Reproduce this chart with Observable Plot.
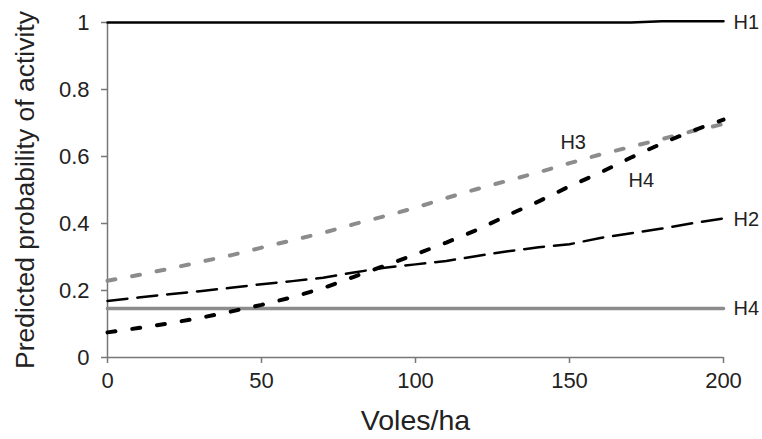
<!DOCTYPE html>
<html>
<head>
<meta charset="utf-8">
<script src="https://cdn.jsdelivr.net/npm/d3@7"></script>
<script src="https://cdn.jsdelivr.net/npm/@observablehq/plot@0.6"></script>
<style>
  html, body { margin: 0; padding: 0; background: white; }
</style>
</head>
<body>
<div id="chart"></div>
<script>
const voles = [0, 10, 20, 30, 40, 50, 60, 70, 80, 90, 100, 110, 120, 130, 140, 150, 160, 170, 180, 190, 200];
const h1 = [1.0, 1.0, 1.0, 1.0, 1.0, 1.0, 1.0, 1.0, 1.0, 1.0, 1.0, 1.0, 1.0, 1.0, 1.0, 1.0, 1.0, 1.0, 1.004, 1.004, 1.004];
const h2 = [0.169, 0.179, 0.189, 0.198, 0.208, 0.219, 0.228, 0.238, 0.254, 0.268, 0.278, 0.288, 0.303, 0.317, 0.329, 0.338, 0.357, 0.371, 0.385, 0.401, 0.415];
const h3 = [0.229, 0.246, 0.265, 0.285, 0.305, 0.328, 0.350, 0.372, 0.398, 0.422, 0.447, 0.476, 0.503, 0.528, 0.553, 0.580, 0.606, 0.629, 0.652, 0.676, 0.697];
const h4 = [0.075, 0.088, 0.102, 0.118, 0.137, 0.157, 0.180, 0.207, 0.241, 0.274, 0.308, 0.343, 0.381, 0.425, 0.466, 0.511, 0.552, 0.597, 0.639, 0.677, 0.710];
const h4flat = [0.146, 0.146, 0.146, 0.146, 0.146, 0.146, 0.146, 0.146, 0.146, 0.146, 0.146, 0.146, 0.146, 0.146, 0.146, 0.146, 0.146, 0.146, 0.146, 0.146, 0.146];

const xTicks = [0, 50, 100, 150, 200];
const yTicks = [0, 0.2, 0.4, 0.6, 0.8, 1];
const xTitle = "Voles/ha";
const yTitle = "Predicted probability of activity";

const endLabels = [
  {text: "H1", x: 200, y: 1.0},
  {text: "H2", x: 200, y: 0.413},
  {text: "H4", x: 200, y: 0.146}
];
const innerLabels = [
  {text: "H3", x: 151.2, y: 0.642},
  {text: "H4", x: 173.3, y: 0.527}
];

const rows = (ys) => voles.map((v, i) => ({x: v, y: ys[i]}));

const plot = Plot.plot({
  width: 762,
  height: 439,
  marginLeft: 107,
  marginRight: 39,
  marginTop: 22,
  marginBottom: 82,
  style: {fontFamily: "'Liberation Sans', Arial, sans-serif", background: "white", color: "#222"},
  x: {domain: [0, 200]},
  y: {domain: [0, 1]},
  marks: [
    Plot.ruleY([0], {stroke: "#777", strokeWidth: 1.5}),
    Plot.ruleX([0], {stroke: "#777", strokeWidth: 1.5}),
    Plot.axisX({ticks: xTicks, tickSize: 6, tickPadding: 9, fontSize: 22, label: null, stroke: "#777", strokeWidth: 1.5, fill: "#222", tickFormat: d => String(d)}),
    Plot.axisY({ticks: yTicks, tickSize: 6, tickPadding: 12, fontSize: 22, label: null, stroke: "#777", strokeWidth: 1.5, fill: "#222", tickFormat: d => String(d)}),
    Plot.line(rows(h4flat), {x: "x", y: "y", stroke: "#8c8c8c", strokeWidth: 3.5}),
    Plot.line(rows(h2), {x: "x", y: "y", stroke: "#000", strokeWidth: 2.5, strokeDasharray: "20,10"}),
    Plot.line(rows(h3), {x: "x", y: "y", stroke: "#8c8c8c", strokeWidth: 4, strokeDasharray: "8,17"}),
    Plot.line(rows(h4), {x: "x", y: "y", stroke: "#000", strokeWidth: 4, strokeDasharray: "8,17"}),
    Plot.line(rows(h1), {x: "x", y: "y", stroke: "#000", strokeWidth: 2.5}),
    Plot.text(endLabels, {x: "x", y: "y", text: "text", dx: 10, textAnchor: "start", fontSize: 20, fill: "#222"}),
    Plot.text(innerLabels, {x: "x", y: "y", text: "text", fontSize: 20, fill: "#222"}),
    Plot.text([xTitle], {frameAnchor: "bottom", dy: 63, fontSize: 28.5, fill: "#222", lineAnchor: "middle", textAnchor: "middle"}),
    Plot.text([yTitle], {frameAnchor: "left", dx: -82, rotate: -90, fontSize: 26.5, fill: "#222", lineAnchor: "middle", textAnchor: "middle"})
  ]
});
document.getElementById("chart").appendChild(plot);
</script>
</body>
</html>
